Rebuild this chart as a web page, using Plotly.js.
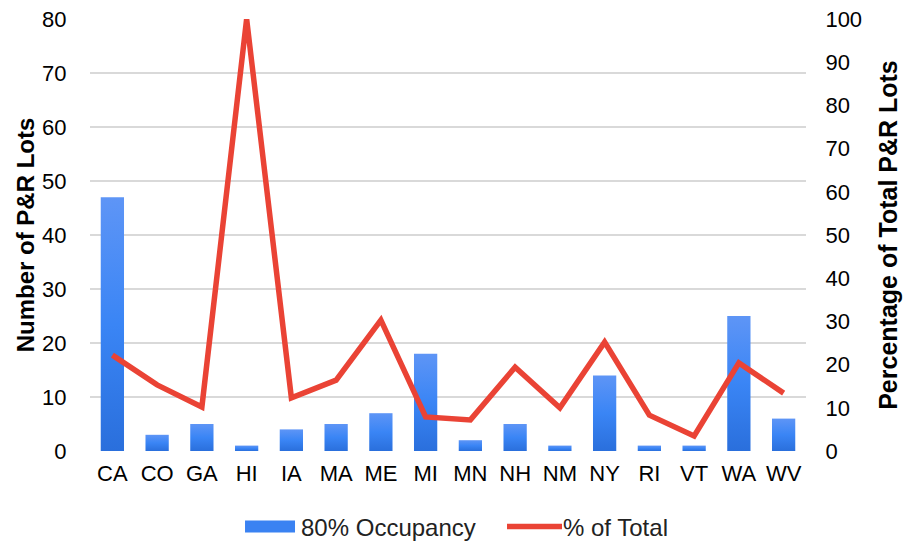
<!DOCTYPE html>
<html>
<head>
<meta charset="utf-8">
<script src="https://cdn.plot.ly/plotly-3.0.1.min.js"></script>
<style>html,body{margin:0;padding:0;background:#fff;}#chart{width:906px;height:546px;}</style>
</head>
<body>
<div id="chart"></div>
<script>
const states = ["CA","CO","GA","HI","IA","MA","ME","MI","MN","NH","NM","NY","RI","VT","WA","WV"];
const occupancy80 = [47,3,5,1,4,5,7,18,2,5,1,14,1,1,25,6];
const pctOfTotal = [22.2,15.3,10.2,100,12.3,16.4,30.3,7.9,7.2,19.4,10,25.2,8.3,3.5,20.4,13.4];
const leftTicks = [0,10,20,30,40,50,60,70,80];
const rightTicks = [0,10,20,30,40,50,60,70,80,90,100];

const font = "Liberation Sans, Arial, sans-serif";
const data = [
  {type:"bar", x:states, y:occupancy80, name:"80% Occupancy",
   marker:{color:"#3a82f2", line:{width:0}}, yaxis:"y"},
  {type:"scatter", mode:"lines", x:states, y:pctOfTotal, name:"% of Total",
   line:{color:"#ea4335", width:5.5}, yaxis:"y2"}
];
const layout = {
  width:906, height:546,
  margin:{l:90, r:100, t:19, b:95},
  paper_bgcolor:"#fff", plot_bgcolor:"#fff",
  font:{family:font, size:21, color:"#000"},
  bargap:0.48,
  showlegend:true,
  legend:{orientation:"h", xref:"paper", x:0.2165, xanchor:"left",
          yref:"container", y:0.035, yanchor:"middle",
          entrywidth:201, entrywidthmode:"pixels",
          font:{family:font, size:24, color:"#222"}, traceorder:"normal", itemwidth:46},
  xaxis:{type:"category", tickfont:{family:font, size:22, color:"#000"}, showgrid:false,
         showline:false, ticks:"outside", ticklen:3, tickcolor:"rgba(0,0,0,0)", automargin:false},
  yaxis:{range:[0,80], tickvals:leftTicks, showgrid:true, gridcolor:"#d9d9d9", gridwidth:2,
         zeroline:false, showline:false, ticks:"outside", ticklen:18, tickcolor:"rgba(0,0,0,0)",
         tickfont:{family:font, size:22, color:"#000"},
         title:{text:"<b>Number of P&R Lots</b>", font:{family:font, size:24, color:"#000"}, standoff:0},
         automargin:false},
  yaxis2:{range:[0,100], tickvals:rightTicks, overlaying:"y", side:"right", showgrid:false,
          zeroline:false, showline:false, ticks:"outside", ticklen:14, tickcolor:"rgba(0,0,0,0)",
          tickfont:{family:font, size:22, color:"#000"},
          title:{text:"<b>Percentage of Total P&R Lots</b>", font:{family:font, size:25, color:"#000"}, standoff:18},
          automargin:false}
};
Plotly.newPlot("chart", data, layout, {displayModeBar:false, staticPlot:true}).then(function(gd){
  const svg = gd.querySelector("svg.main-svg");
  const ns = "http://www.w3.org/2000/svg";
  let defs = svg.querySelector("defs");
  if(!defs){defs = document.createElementNS(ns,"defs"); svg.insertBefore(defs, svg.firstChild);}
  const g = document.createElementNS(ns,"linearGradient");
  g.setAttribute("id","barGrad"); g.setAttribute("x1","0"); g.setAttribute("y1","0");
  g.setAttribute("x2","0"); g.setAttribute("y2","1");
  [["0","#5e95f6"],["0.5","#3a85f5"],["1","#2a6fdc"]].forEach(function(s){
    const st = document.createElementNS(ns,"stop");
    st.setAttribute("offset",s[0]); st.setAttribute("stop-color",s[1]); g.appendChild(st);
  });
  defs.appendChild(g);
  gd.querySelectorAll(".barlayer .point path").forEach(function(p){ p.style.fill = "url(#barGrad)"; });
  gd.querySelectorAll(".legend .traces").forEach(function(tr){
    const d = tr.__data__ && tr.__data__[0] && tr.__data__[0].trace;
    if(!d) return;
    if(d.type === "bar"){
      tr.querySelectorAll(".legendpoints path").forEach(function(p){
        p.setAttribute("d","M50,6H0V-6H50Z");
        p.setAttribute("transform","translate(0,0)");
        p.style.fill = "#3a82f2";
      });
    } else {
      tr.querySelectorAll(".legendlines path").forEach(function(p){
        p.setAttribute("d","M0,0h55");
        p.setAttribute("transform","translate(0,0)");
      });
    }
  });
});
</script>
</body>
</html>
